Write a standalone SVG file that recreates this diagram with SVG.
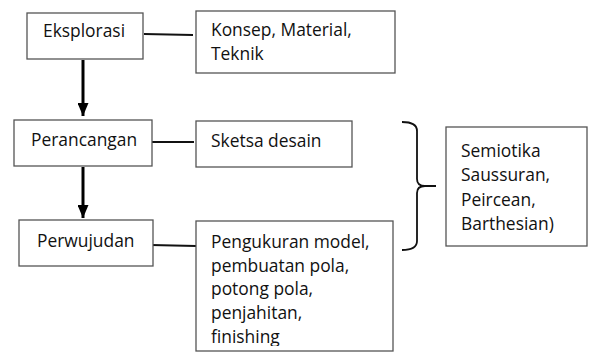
<svg xmlns="http://www.w3.org/2000/svg" width="590" height="354" viewBox="0 0 590 354">
<style>
.box{fill:#fff;stroke:#555;stroke-width:1.3}
.t{font-family:"Open Sans","Liberation Sans",sans-serif;font-size:17.4px;fill:#111}
.ln{stroke:#111;stroke-width:1.8;fill:none}
.ar{stroke:#000;stroke-width:3;fill:none}
</style>
<defs>
<marker id="ah" markerUnits="userSpaceOnUse" markerWidth="14" markerHeight="11" refX="13" refY="5.5" orient="auto">
<path d="M0,0 L13,5.5 L0,11 Z" fill="#000"/>
</marker>
</defs>
<rect width="590" height="354" fill="#fff"/>
<g id="connectors">
<line class="ln" x1="144" y1="34" x2="193" y2="35"/>
<line class="ln" x1="152" y1="142" x2="194" y2="142"/>
<line class="ln" x1="151" y1="245" x2="196" y2="246"/>
<line class="ar" x1="83" y1="60" x2="83" y2="116" marker-end="url(#ah)"/>
<line class="ar" x1="83" y1="167" x2="83" y2="218" marker-end="url(#ah)"/>
<path class="ln" d="M402,122 Q417,122 417,131 V179 Q417,186 425,186 H436 M425,186 Q417,186 417,193 V241 Q417,250 402,250"/>
</g>
<g id="eksplorasi">
<rect class="box" x="27" y="13" width="116" height="46"/>
<text class="t" x="43" y="37">Eksplorasi</text>
</g>
<g id="konsep">
<rect class="box" x="196" y="11" width="199" height="62"/>
<text class="t" x="211" y="36">Konsep, Material,</text>
<text class="t" x="211" y="60">Teknik</text>
</g>
<g id="perancangan">
<rect class="box" x="14" y="120" width="138" height="46"/>
<text class="t" x="31" y="146">Perancangan</text>
</g>
<g id="sketsa">
<rect class="box" x="196" y="121" width="156" height="46"/>
<text class="t" x="211" y="147">Sketsa desain</text>
</g>
<g id="perwujudan">
<rect class="box" x="19" y="220" width="134" height="46"/>
<text class="t" x="37" y="247">Perwujudan</text>
</g>
<g id="pengukuran">
<rect class="box" x="196" y="221" width="197" height="130"/>
<svg x="196" y="221" width="197" height="125" overflow="hidden">
<text class="t" x="15" y="27">Pengukuran model,</text>
<text class="t" x="15" y="50.5">pembuatan pola,</text>
<text class="t" x="15" y="74">potong pola,</text>
<text class="t" x="15" y="97.5">penjahitan,</text>
<text class="t" x="15" y="121.5">finishing</text>
</svg>
</g>
<g id="semiotika">
<rect class="box" x="446" y="127" width="141" height="119"/>
<text class="t" x="461" y="157">Semiotika</text>
<text class="t" x="461" y="181">Saussuran,</text>
<text class="t" x="461" y="205.5">Peircean,</text>
<text class="t" x="461" y="230">Barthesian)</text>
</g>
</svg>
